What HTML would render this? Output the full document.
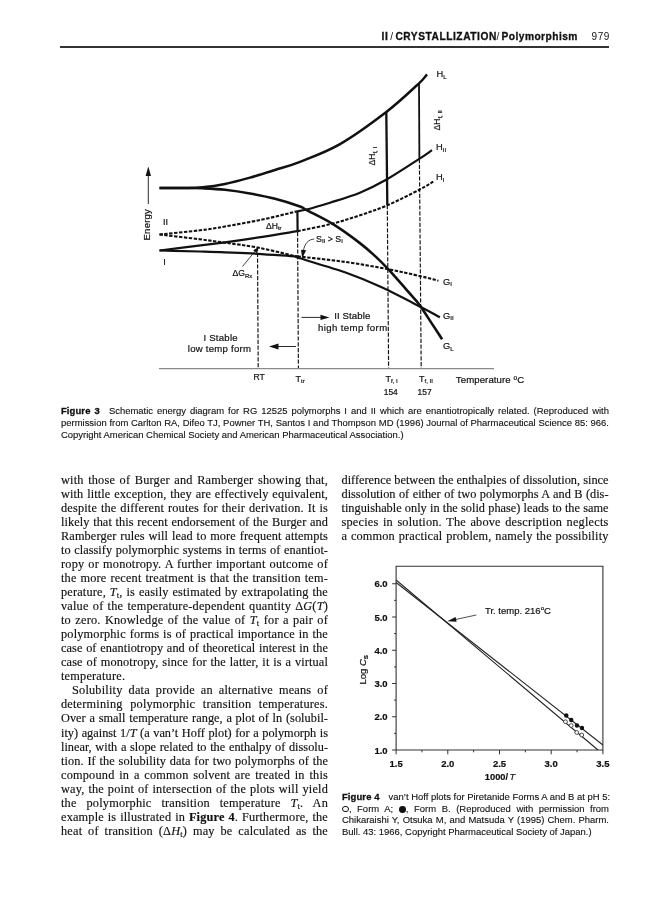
<!DOCTYPE html>
<html lang="en">
<head>
<meta charset="utf-8">
<title>II / CRYSTALLIZATION / Polymorphism 979</title>
<style>
html,body{margin:0;padding:0;background:#fff;}
body{width:668px;height:900px;position:relative;overflow:hidden;color:#111;font-family:"Liberation Serif",serif;}
.hdr{position:absolute;left:0;top:31px;width:668px;height:12px;font:bold 10.2px/12px "Liberation Sans",sans-serif;white-space:nowrap;color:#111;}
.hdr span{position:absolute;top:0;-webkit-text-stroke:0.3px #111;}
.hdr .sl{font-weight:normal;-webkit-text-stroke:0;}
.hdr .pg{font-weight:normal;font-size:10px;-webkit-text-stroke:0;}
.rule{position:absolute;left:60px;top:46.3px;width:548.5px;height:1.6px;background:#333;}
.cap{position:absolute;font:9.46px/12.2px "Liberation Sans",sans-serif;color:#111;-webkit-text-stroke:0.12px #111;}
.cap div{text-align:justify;text-align-last:justify;white-space:nowrap;height:12.2px;}
.cap div.l{text-align-last:left;}
.cap b{font-weight:bold;-webkit-text-stroke:0.3px #111;letter-spacing:0.1px;}
.cap .gap{display:inline-block;width:9px;}
.oc{display:inline-block;width:4.6px;height:4.6px;border:0.8px solid #111;border-radius:50%;vertical-align:-0.6px;margin-right:0.3px;}
.fc{display:inline-block;width:6.8px;height:6.8px;background:#111;border-radius:50%;vertical-align:-1.2px;margin-right:0.3px;}
#cap4{line-height:11.8px;}
#cap4 div{height:11.8px;}
.col{position:absolute;width:267px;font-size:12.3px;line-height:14.05px;color:#111;-webkit-text-stroke:0.15px #111;}
.col div{text-align:justify;text-align-last:justify;height:14.05px;white-space:nowrap;}
.col div.l{text-align-last:left;}
.col div.in{text-indent:11px;}
sub{font-size:70%;vertical-align:baseline;position:relative;top:2px;line-height:0;}
svg{position:absolute;left:0;top:0;}
svg text{font-family:"Liberation Sans",sans-serif;fill:#111;stroke:#111;stroke-width:0.2px;}
</style>
</head>
<body>
<div class="hdr"><span style="left:381.6px;letter-spacing:0.6px">II</span><span class="sl" style="left:390.2px">/</span><span style="left:395.4px;letter-spacing:0.55px">CRYSTALLIZATION</span><span class="sl" style="left:496.6px">/</span><span style="left:501.5px;letter-spacing:0.47px">Polymorphism</span><span class="pg" style="left:591.6px;letter-spacing:0.5px">979</span></div>
<div class="rule"></div>

<!--FIG3-->
<svg id="fig3" width="668" height="900" viewBox="0 0 668 900">
<g fill="none" stroke="#111" stroke-linecap="butt">
<path d="M159 368.7H494" stroke="#8a8a8a" stroke-width="1.3"/>
<path d="M148.3 204V174" stroke-width="0.9"/>
<path d="M148.3 166.5L151 176H145.6Z" fill="#111" stroke="none"/>
<path d="M159.5 188.0C168.0 188.0 177.8 188.1 185.0 188.0C192.2 187.9 195.8 188.0 202.5 187.3C209.2 186.6 217.1 185.5 225.0 183.9C232.9 182.3 241.7 179.9 250.0 177.6C258.3 175.3 266.7 172.6 275.0 170.0C283.3 167.4 289.2 166.1 300.0 161.8C310.8 157.5 325.6 152.4 340.0 144.1C354.4 135.8 373.1 122.1 386.3 112.0C399.5 101.9 412.2 89.6 419.0 83.3C425.8 77.0 424.3 77.3 427.0 74.3" stroke-width="2.5"/>
<path d="M159.5 188.0C168.0 188.0 177.8 187.9 185.0 188.0C192.2 188.1 195.8 188.0 202.5 188.3C209.2 188.6 217.1 188.9 225.0 189.8C232.9 190.7 241.7 192.0 250.0 193.5C258.3 195.0 266.7 196.6 275.0 198.8C283.3 200.9 294.7 204.6 300.0 206.5C305.3 208.4 301.3 207.3 306.7 210.2C312.1 213.1 323.3 218.2 332.2 223.7C341.1 229.2 352.8 237.7 359.9 243.1C367.0 248.5 370.2 251.6 374.9 255.9C379.6 260.2 383.6 264.3 388.2 269.2C392.8 274.1 397.9 280.0 402.5 285.2C407.1 290.4 412.8 296.7 415.9 300.4C419.0 304.1 418.4 303.2 421.2 307.2C423.9 311.2 428.9 319.0 432.4 324.4C435.9 329.8 438.9 334.3 442.1 339.3" stroke-width="2.6"/>
<path d="M297.5 211.2C300.6 210.7 301.3 210.9 306.7 209.5C312.1 208.1 321.1 205.5 330.0 202.7C338.9 199.9 350.5 196.6 359.9 192.7C369.3 188.8 376.7 185.1 386.6 179.5C396.5 173.9 411.6 163.8 419.2 158.9C426.8 154.0 427.7 153.1 432.0 150.2" stroke-width="2.2"/>
<path d="M159.5 250.5C181.3 247.8 207.8 244.6 225.0 242.3C242.2 240.0 250.4 238.6 262.5 236.8C274.6 235.0 285.8 233.1 297.5 231.2" stroke-width="2.2"/>
<path d="M297.5 257.0C298.3 257.4 292.1 255.8 300.0 258.3C307.9 260.9 331.6 267.6 344.9 272.3C358.2 277.0 367.3 280.8 380.0 286.6C392.7 292.4 411.2 302.1 421.2 307.2C431.2 312.3 433.7 313.9 439.9 317.3" stroke-width="2.2"/>
<path d="M159.5 250.5C173.0 250.8 189.1 251.2 200.0 251.5C210.9 251.8 215.4 251.9 225.0 252.3C234.6 252.7 245.4 253.0 257.5 253.8C269.6 254.5 284.2 255.7 297.5 256.6" stroke-width="2.2"/>
<path d="M159.5 234.5C173.0 233.1 189.1 231.6 200.0 230.3C210.9 229.0 214.6 228.3 225.0 226.5C235.4 224.7 250.4 222.0 262.5 219.5C274.6 217.0 285.8 214.0 297.5 211.2" stroke-width="2.1" stroke-dasharray="3.4 1.5"/>
<path d="M297.5 231.2C309.1 228.7 321.8 226.4 332.2 223.7C342.6 221.0 350.8 218.4 360.0 215.3C369.2 212.2 377.4 209.6 387.4 205.3C397.3 201.0 411.8 193.6 419.7 189.5C427.6 185.4 429.6 183.8 434.5 181.0" stroke-width="2.1" stroke-dasharray="3.4 1.5"/>
<path d="M159.5 234.5C173.0 236.1 189.1 237.9 200.0 239.3C210.9 240.7 215.4 241.3 225.0 242.7C234.6 244.1 245.4 245.2 257.5 247.5C269.6 249.8 284.2 253.6 297.5 256.6" stroke-width="2.1" stroke-dasharray="3.4 1.5"/>
<path d="M297.5 256.3C313.3 258.2 329.8 259.8 344.9 261.9C360.0 264.0 375.6 266.8 388.2 269.2C400.8 271.6 412.0 274.3 420.4 276.2C428.8 278.1 432.4 279.2 438.4 280.7" stroke-width="2.1" stroke-dasharray="3.4 1.5"/>
<path d="M297.4 211L297.6 231.5" stroke-width="2.2"/>
<path d="M386.3 112L387.3 205" stroke-width="2.3"/>
<path d="M419 83L419.4 159" stroke-width="1.8"/>
<g stroke-width="1.15" stroke-dasharray="4.2 1.6">
<path d="M257.5 247L258.2 368"/>
<path d="M297.6 232L298.4 368"/>
<path d="M387.3 205L388.6 368"/>
<path d="M419.4 159L421.2 368"/>
</g>
<path d="M301.5 317.4H322" stroke-width="0.9"/>
<path d="M329.5 317.4L320.5 314.8V320Z" fill="#111" stroke="none"/>
<path d="M296 346.5H277" stroke-width="0.9"/>
<path d="M269 346.5L278.5 343.6V349.4Z" fill="#111" stroke="none"/>
<path d="M242.5 266.5L256 250" stroke-width="0.8"/>
<path d="M258.3 247.2L256.9 253.2L253.2 250.2Z" fill="#111" stroke="none"/>
<path d="M314.2 239.1C308.5 239.3 304.5 243.5 303.4 251" stroke-width="0.8"/>
<path d="M302.2 258.3L301 249.8L306.2 250.3Z" fill="#111" stroke="none"/>
</g>
<text x="0" y="0" font-size="9.6" transform="translate(150.2 240.5) rotate(-90)" letter-spacing="0.2">Energy</text>
<text x="163" y="224.5" font-size="9" >II</text>
<text x="163.2" y="265" font-size="9" >I</text>
<text x="436.5" y="77" font-size="9.3" >H<tspan font-size="6" dy="1.6">L</tspan></text>
<text x="436" y="150" font-size="9.3" >H<tspan font-size="6" dy="1.6">II</tspan></text>
<text x="436" y="180.3" font-size="9.3" >H<tspan font-size="6" dy="1.6">I</tspan></text>
<text x="443" y="284.5" font-size="9.3" >G<tspan font-size="6" dy="1.6">I</tspan></text>
<text x="443" y="318.7" font-size="9.3" >G<tspan font-size="6" dy="1.6">II</tspan></text>
<text x="443" y="349.2" font-size="9.3" >G<tspan font-size="6" dy="1.6">L</tspan></text>
<text x="266" y="228.7" font-size="8.6" >&#916;H<tspan font-size="6" dy="1.6">tr</tspan></text>
<text x="232.5" y="276.2" font-size="8.6" >&#916;G<tspan font-size="6" dy="1.6">Rx</tspan></text>
<text x="316" y="241.6" font-size="8.8" >S<tspan font-size="6" dy="1.6">II</tspan><tspan dy="-1.6"> &gt; S</tspan><tspan font-size="6" dy="1.6">I</tspan></text>
<text x="0" y="0" font-size="8.6" transform="translate(375.3 165.5) rotate(-90)">&#916;H<tspan font-size="6" dy="1.6">f, I</tspan></text>
<text x="0" y="0" font-size="8.6" transform="translate(440 130.5) rotate(-90)">&#916;H<tspan font-size="6" dy="1.6">f, II</tspan></text>
<text x="334.2" y="319.3" font-size="9.6" letter-spacing="0.12">II Stable</text>
<text x="318" y="330.5" font-size="9.6" letter-spacing="0.4">high temp form</text>
<text x="203.4" y="340.5" font-size="9.6" letter-spacing="0.25">I Stable</text>
<text x="187.8" y="352" font-size="9.6" letter-spacing="0.25">low temp form</text>
<text x="253.4" y="380.3" font-size="8.6" >RT</text>
<text x="295.6" y="381.5" font-size="9" >T<tspan font-size="6" dy="1.6">tr</tspan></text>
<text x="385.5" y="381.5" font-size="9" >T<tspan font-size="6" dy="1.6">f, I</tspan></text>
<text x="419" y="381.5" font-size="9" >T<tspan font-size="6" dy="1.6">f, II</tspan></text>
<text x="383.8" y="395" font-size="8.4" >154</text>
<text x="417.6" y="395" font-size="8.4" >157</text>
<text x="455.8" y="382.9" font-size="9.6" letter-spacing="0.1">Temperature <tspan font-size="6.5" dy="-3.2">o</tspan><tspan dy="3.2">C</tspan></text>
</svg>
<!--/FIG3-->

<div class="cap" id="cap3" style="left:61px;top:404.5px;width:548px;">
<div><b>Figure 3</b><span class="gap"></span>Schematic energy diagram for RG 12525 polymorphs I and II which are enantiotropically related. (Reproduced with</div>
<div>permission from Carlton RA, Difeo TJ, Powner TH, Santos I and Thompson MD (1996) Journal of Pharmaceutical Science 85: 966.</div>
<div class="l">Copyright American Chemical Society and American Pharmaceutical Association.)</div>
</div>

<div class="col" id="colL" style="left:61px;top:472.7px;">
<div style="letter-spacing:0.2px">with those of Burger and Ramberger showing that,</div>
<div style="letter-spacing:0.12px">with little exception, they are effectively equivalent,</div>
<div style="letter-spacing:0.18px">despite the different routes for their derivation. It is</div>
<div style="letter-spacing:0.07px">likely that this recent endorsement of the Burger and</div>
<div style="letter-spacing:0.12px">Ramberger rules will lead to more frequent attempts</div>
<div style="letter-spacing:0.03px">to classify polymorphic systems in terms of enantiot-</div>
<div style="letter-spacing:0.2px">ropy or monotropy. A further important outcome of</div>
<div style="letter-spacing:0.19px">the more recent treatment is that the transition tem-</div>
<div style="letter-spacing:0.17px">perature, <i>T</i><sub>t</sub>, is easily estimated by extrapolating the</div>
<div style="letter-spacing:0.2px">value of the temperature-dependent quantity &Delta;<i>G</i>(<i>T</i>)</div>
<div style="letter-spacing:0.2px">to zero. Knowledge of the value of <i>T</i><sub>t</sub> for a pair of</div>
<div style="letter-spacing:0.18px">polymorphic forms is of practical importance in the</div>
<div style="letter-spacing:0.06px">case of enantiotropy and of theoretical interest in the</div>
<div style="letter-spacing:0.13px">case of monotropy, since for the latter, it is a virtual</div>
<div class="l" style="letter-spacing:0.2px">temperature.</div>
<div class="in" style="letter-spacing:0.2px">Solubility data provide an alternative means of</div>
<div style="letter-spacing:0.2px">determining polymorphic transition temperatures.</div>
<div style="letter-spacing:0.04px">Over a small temperature range, a plot of ln (solubil-</div>
<div>ity) against 1/<i>T</i> (a van&rsquo;t Hoff plot) for a polymorph is</div>
<div style="letter-spacing:0.01px">linear, with a slope related to the enthalpy of dissolu-</div>
<div style="letter-spacing:0.09px">tion. If the solubility data for two polymorphs of the</div>
<div style="letter-spacing:0.2px">compound in a common solvent are treated in this</div>
<div style="letter-spacing:0.19px">way, the point of intersection of the plots will yield</div>
<div style="letter-spacing:0.2px">the polymorphic transition temperature <i>T</i><sub>t</sub>. An</div>
<div style="letter-spacing:0.18px">example is illustrated in <b>Figure 4</b>. Furthermore, the</div>
<div style="letter-spacing:0.2px">heat of transition (&Delta;<i>H</i><sub>t</sub>) may be calculated as the</div>
</div>

<div class="col" id="colR" style="left:341.5px;top:472.7px;">
<div>difference between the enthalpies of dissolution, since</div>
<div>dissolution of either of two polymorphs A and B (dis-</div>
<div>tinguishable only in the solid phase) leads to the same</div>
<div style="letter-spacing:0.2px">species in solution. The above description neglects</div>
<div style="letter-spacing:0.15px">a common practical problem, namely the possibility</div>
</div>

<!--FIG4-->
<svg id="fig4" width="668" height="900" viewBox="0 0 668 900">
<g fill="none" stroke="#222">
<path d="M396.1 566.3H602.9V750H396.1Z" stroke-width="1.1" stroke="#333"/>
<path d="M396.10 750v4.3M421.95 750v2.3M447.80 750v4.3M473.65 750v2.3M499.50 750v4.3M525.35 750v2.3M551.20 750v4.3M577.05 750v2.3M602.90 750v4.3M396.1 750.00h-4M396.1 733.38h-2M396.1 716.75h-4M396.1 700.12h-2M396.1 683.50h-4M396.1 666.88h-2M396.1 650.25h-4M396.1 633.62h-2M396.1 617.00h-4M396.1 600.38h-2M396.1 583.75h-4" stroke-width="1" stroke="#333"/>
<path d="M396.1 582.5L602.9 745" stroke-width="1.05"/>
<path d="M396.1 580L598 750" stroke-width="1.05"/>
<path d="M476.3 615L455 619.6" stroke-width="0.8"/>
<path d="M447.3 621.3L455.6 616.9L456.6 621.8Z" fill="#111" stroke="none"/>
<circle cx="566.25" cy="715.5" r="2.2" fill="#111" stroke="none"/>
<circle cx="571.25" cy="720" r="2.2" fill="#111" stroke="none"/>
<circle cx="577" cy="725.5" r="2.2" fill="#111" stroke="none"/>
<circle cx="582" cy="728" r="2.2" fill="#111" stroke="none"/>
<circle cx="565.5" cy="721.75" r="1.9" fill="#fff" stroke-width="0.8"/>
<circle cx="571.25" cy="725.5" r="1.9" fill="#fff" stroke-width="0.8"/>
<circle cx="576.75" cy="732.5" r="1.9" fill="#fff" stroke-width="0.8"/>
<circle cx="581.75" cy="735" r="1.9" fill="#fff" stroke-width="0.8"/>
</g>
<text x="387.6" y="753.5" font-size="9.5" font-weight="bold" stroke-width="0" text-anchor="end">1.0</text>
<text x="387.6" y="720.2" font-size="9.5" font-weight="bold" stroke-width="0" text-anchor="end">2.0</text>
<text x="387.6" y="687.0" font-size="9.5" font-weight="bold" stroke-width="0" text-anchor="end">3.0</text>
<text x="387.6" y="653.8" font-size="9.5" font-weight="bold" stroke-width="0" text-anchor="end">4.0</text>
<text x="387.6" y="620.5" font-size="9.5" font-weight="bold" stroke-width="0" text-anchor="end">5.0</text>
<text x="387.6" y="587.2" font-size="9.5" font-weight="bold" stroke-width="0" text-anchor="end">6.0</text>
<text x="396.1" y="767.2" font-size="9.5" font-weight="bold" stroke-width="0" text-anchor="middle">1.5</text>
<text x="447.8" y="767.2" font-size="9.5" font-weight="bold" stroke-width="0" text-anchor="middle">2.0</text>
<text x="499.5" y="767.2" font-size="9.5" font-weight="bold" stroke-width="0" text-anchor="middle">2.5</text>
<text x="551.2" y="767.2" font-size="9.5" font-weight="bold" stroke-width="0" text-anchor="middle">3.0</text>
<text x="602.9" y="767.2" font-size="9.5" font-weight="bold" stroke-width="0" text-anchor="middle">3.5</text>
<text x="484.8" y="779.5" font-size="9.3" font-weight="bold" stroke-width="0">1000/<tspan font-style="italic" font-weight="normal" dx="1.5">T</tspan></text>
<text font-size="9.5" transform="translate(366 684.5) rotate(-90)">Log <tspan font-style="italic">C</tspan><tspan font-size="6.2" dy="1.8" font-weight="bold">S</tspan></text>
<text x="485" y="613.75" font-size="9.5">Tr. temp. 216<tspan font-size="6" dy="-3.6">o</tspan><tspan dy="3.6">C</tspan></text>
</svg>
<!--/FIG4-->

<div class="cap" id="cap4" style="left:342px;top:790.8px;width:267px;">
<div><b>Figure 4</b><span class="gap"></span>van&rsquo;t Hoff plots for Piretanide Forms A and B at pH 5:</div>
<div><span class="oc"></span>, Form A; <span class="fc"></span>, Form B. (Reproduced with permission from</div>
<div>Chikaraishi Y, Otsuka M, and Matsuda Y (1995) Chem. Pharm.</div>
<div class="l">Bull. 43: 1966, Copyright Pharmaceutical Society of Japan.)</div>
</div>
</body>
</html>
